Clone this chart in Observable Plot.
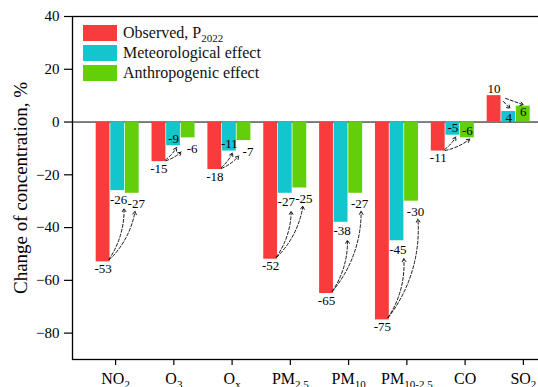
<!DOCTYPE html>
<html><head><meta charset="utf-8">
<script src="https://cdn.jsdelivr.net/npm/d3@7"></script>
<script src="https://cdn.jsdelivr.net/npm/@observablehq/plot@0.6"></script>
<style>
body{margin:0;background:#fff;overflow:hidden}
#wrap{position:relative;width:538px;height:387px;font-family:"Liberation Serif","Times New Roman",serif;color:#111}
#wrap svg{position:absolute;left:0;top:0}
.legend{position:absolute;left:83px;top:25px;font-size:16px;line-height:16px}
.legend .item{display:flex;align-items:center;height:16px;margin-bottom:4px;white-space:nowrap}
.legend .sw{display:inline-block;width:34px;height:16px;margin-right:6px}
.legend sub{font-size:11px;vertical-align:-4px;line-height:0}
</style></head><body><div id="wrap"></div>
<script>
// ---- data ----
const categories = ["NO2", "O3", "Ox", "PM2.5", "PM10", "PM10-2.5", "CO", "SO2"];
const tickBase = ["NO", "O", "O", "PM", "PM", "PM", "CO", "SO"];
const tickSub = ["2", "3", "x", "2.5", "10", "10-2.5", "", "2"];
const seriesNames = ["Observed, P2022", "Meteorological effect", "Anthropogenic effect"];
const observed = [-53, -15, -18, -52, -65, -75, -11, 10];
const meteorological = [-26, -9, -11, -27, -38, -45, -5, 4];
const anthropogenic = [-27, -6, -7, -25, -27, -30, -6, 6];
// where each effect label sits relative to its bar end (annotation layout)
const metPlacement = ["out", "in", "in", "out", "out", "out", "in", "in"];
const anthPlacement = ["out", "out", "out", "out", "out", "out", "in", "in"];
const yTicks = [40, 20, 0, -20, -40, -60, -80];
const yLabel = "Change of concentration, %";
const colors = ["#F83C3C", "#13C5CD", "#63CF0B"];

// ---- tables ----
const rows = categories.flatMap((c, i) => [
  {category: c, series: seriesNames[0], value: observed[i], place: "out"},
  {category: c, series: seriesNames[1], value: meteorological[i], place: metPlacement[i]},
  {category: c, series: seriesNames[2], value: anthropogenic[i], place: anthPlacement[i]}
]);
const arrows = categories.flatMap((c, i) => [
  {category: c, from: seriesNames[0], to: seriesNames[1], y1: observed[i], y2: meteorological[i], place: metPlacement[i]},
  {category: c, from: seriesNames[0], to: seriesNames[2], y1: observed[i], y2: anthropogenic[i], place: anthPlacement[i]}
]);

const xBand = {domain: categories, paddingInner: 0.23, paddingOuter: 0.2865, align: 0.74, round: false};
const common = {width: 538, height: 387, marginLeft: 72, marginRight: 0, marginTop: 16, marginBottom: 28};
const yScale = {domain: [-90, 40]};
const font = "'Liberation Serif', 'Times New Roman', serif";

// ---- plot A: frame, axes ----
const plotA = Plot.plot({
  ...common,
  style: {fontFamily: font, color: "black", background: "white", overflow: "hidden"},
  x: {...xBand, axis: null},
  y: {...yScale, axis: null},
  marks: [
    Plot.ruleY([0], {stroke: "black", strokeWidth: 1}),
    Plot.frame({stroke: "black", strokeWidth: 1.3, insetRight: -4}),
    Plot.axisY({ticks: yTicks, tickSize: 8, tickPadding: 5, fontSize: 15, fontFamily: font, label: null, strokeWidth: 1.2}),
    Plot.axisX({tickSize: 6, tickPadding: 7, fontSize: 16, fontFamily: font, label: null, strokeWidth: 1.2}),
    Plot.text([yLabel], {frameAnchor: "left", rotate: -90, dx: -46, fontSize: 19, fontFamily: font, textAnchor: "middle", lineAnchor: "bottom"})
  ]
});

// ---- plot B: bars, labels, arrows ----
const lab = {fx: "category", x: "series", y: "value", text: d => String(d.value), fontSize: 13, fontFamily: font, fill: "black"};
const arr = {fx: "category", x1: "from", x2: "to", y1: "y1", y2: "y2", dx: 4, stroke: "black", strokeWidth: 0.9, strokeDasharray: "3,2", headLength: 6};
const isObs = d => d.series === seriesNames[0];
const isMet = d => d.series === seriesNames[1];
const isAnth = d => d.series === seriesNames[2];
const plotB = Plot.plot({
  ...common,
  style: {fontFamily: font, color: "black", background: "transparent", overflow: "visible"},
  fx: {...xBand, axis: null},
  x: {domain: seriesNames, paddingInner: 0.05, paddingOuter: 0, round: false, axis: null},
  y: {...yScale, axis: null},
  color: {domain: seriesNames, range: colors},
  marks: [
    Plot.barY(rows, {fx: "category", x: "series", y: "value", fill: "series"}),
    Plot.text(rows, {...lab, filter: d => isObs(d) && d.value < 0, dy: 7}),
    Plot.text(rows, {...lab, filter: d => isObs(d) && d.value > 0, dy: -7}),
    Plot.text(rows, {...lab, filter: d => isMet(d) && d.place === "out" && d.value < 0, dy: 9, dx: 1}),
    Plot.text(rows, {...lab, filter: d => isAnth(d) && d.place === "out" && d.value < 0, dy: 11, dx: 4}),
    Plot.text(rows, {...lab, filter: d => !isObs(d) && d.place === "in" && d.value < 0, dy: -7}),
    Plot.text(rows, {...lab, filter: d => !isObs(d) && d.place === "in" && d.value > 0, dy: 6}),
    Plot.arrow(arrows, {...arr, filter: d => d.y1 < 0 && d.place === "out", bend: -25, insetStart: 3, insetEnd: 18}),
    Plot.arrow(arrows, {...arr, filter: d => d.y1 < 0 && d.place === "in", bend: -15, insetStart: 3, insetEnd: 2}),
    Plot.arrow(arrows, {...arr, filter: d => d.y1 > 0, bend: 0, insetStart: 8, insetEnd: 4})
  ]
});

// subscripts on x tick labels
plotA.querySelectorAll('g[aria-label="x-axis tick label"] text').forEach(t => {
  const i = categories.indexOf(t.textContent);
  if (i < 0) return;
  t.textContent = "";
  const ns = "http://www.w3.org/2000/svg";
  const a = document.createElementNS(ns, "tspan");
  a.textContent = tickBase[i];
  t.appendChild(a);
  if (tickSub[i]) {
    const b = document.createElementNS(ns, "tspan");
    b.textContent = tickSub[i];
    b.setAttribute("dy", "4");
    b.setAttribute("font-size", "11");
    t.appendChild(b);
  }
});

const wrap = document.getElementById("wrap");
wrap.appendChild(plotA);
wrap.appendChild(plotB);

// legend
const legend = document.createElement("div");
legend.className = "legend";
const legendLabels = ["Observed, P<sub>2022</sub>", "Meteorological effect", "Anthropogenic effect"];
legend.innerHTML = seriesNames.map((s, i) =>
  `<div class="item"><span class="sw" style="background:${colors[i]}"></span><span>${legendLabels[i]}</span></div>`).join("");
wrap.appendChild(legend);
</script></body></html>
